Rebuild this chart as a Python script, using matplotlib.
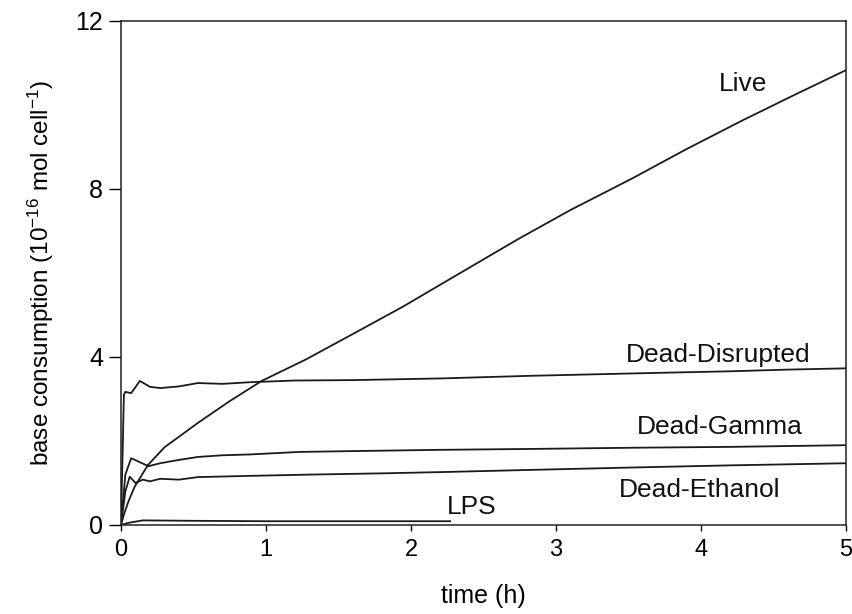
import matplotlib
matplotlib.use("Agg")
import matplotlib.pyplot as plt

plt.rcParams['font.family'] = ['Liberation Sans', 'DejaVu Sans']
plt.rcParams['mathtext.default'] = 'regular'

# ---- data ----
live_t = [0, 0.02, 0.05, 0.094, 0.186, 0.3, 0.53, 0.75, 0.97, 1.28, 1.6, 1.94,
          2.3, 2.73, 3.1, 3.53, 3.9, 4.29, 4.65, 5.0]
live_v = [0, 0.25, 0.55, 0.91, 1.43, 1.85, 2.43, 2.95, 3.43, 3.95, 4.55, 5.19,
          5.92, 6.79, 7.5, 8.26, 8.95, 9.64, 10.25, 10.83]

disr_t = [0, 0.02, 0.03, 0.07, 0.13, 0.2, 0.27, 0.4, 0.53, 0.7, 0.89, 1.2, 1.6,
          2.21, 2.8, 3.54, 4.2, 4.6, 5.0]
disr_v = [0, 3.1, 3.17, 3.14, 3.43, 3.29, 3.26, 3.3, 3.38, 3.36, 3.40, 3.44, 3.45,
          3.49, 3.55, 3.61, 3.66, 3.70, 3.73]

gamma_t = [0, 0.03, 0.07, 0.19, 0.27, 0.4, 0.53, 0.7, 0.89, 1.23, 1.6, 2.21,
           2.8, 3.54, 4.2, 5.0]
gamma_v = [0, 1.2, 1.59, 1.40, 1.47, 1.55, 1.62, 1.66, 1.68, 1.74, 1.76, 1.79,
           1.81, 1.84, 1.86, 1.90]

eth_t = [0, 0.03, 0.06, 0.1, 0.15, 0.2, 0.27, 0.4, 0.53, 0.89, 1.3, 1.8, 2.21,
         2.8, 3.54, 4.2, 5.0]
eth_v = [0, 0.8, 1.15, 1.00, 1.08, 1.04, 1.10, 1.08, 1.14, 1.17, 1.20, 1.23, 1.26,
         1.31, 1.37, 1.42, 1.47]

lps_t = [0, 0.05, 0.15, 0.5, 1.0, 1.5, 2.0, 2.27]
lps_v = [0, 0.05, 0.11, 0.10, 0.09, 0.09, 0.09, 0.09]

series = [(live_t, live_v), (disr_t, disr_v), (gamma_t, gamma_v),
          (eth_t, eth_v), (lps_t, lps_v)]

labels = ["Live", "Dead-Disrupted", "Dead-Gamma", "Dead-Ethanol", "LPS"]
label_pos = [(4.29, 10.5, 'center'), (4.12, 4.04, 'center'), (4.13, 2.33, 'center'),
             (3.99, 0.83, 'center'), (2.25, 0.43, 'left')]

x_ticks = [0, 1, 2, 3, 4, 5]
y_ticks = [0, 4, 8, 12]

# ---- figure ----
fig = plt.figure(figsize=(8.52, 6.14), dpi=100)
ax = fig.add_axes([121/852, 89/614, 725/852, 504/614])

for t, v in series:
    ax.plot(t, v, color='#1a1a1a', lw=1.3)

for lab, (x, y, ha) in zip(labels, label_pos):
    ax.text(x, y, lab, ha=ha, va='center', fontsize=19, color='#111111')

ax.set_xlim(0, 5)
ax.set_ylim(0, 12)
ax.set_xticks(x_ticks)
ax.set_yticks(y_ticks)
ax.tick_params(axis='x', direction='out', length=4, width=1, labelsize=17, pad=6)
ax.tick_params(axis='y', direction='out', length=9, width=1, labelsize=18, pad=4)
for s in ax.spines.values():
    s.set_linewidth(1.1)
    s.set_color('#222222')

ax.set_xlabel("time (h)", fontsize=18, labelpad=17)
ax.set_ylabel("base consumption (10$^{-16}$ mol cell$^{-1}$)", fontsize=17.5, labelpad=14)

fig.savefig("out.png", dpi=100)
